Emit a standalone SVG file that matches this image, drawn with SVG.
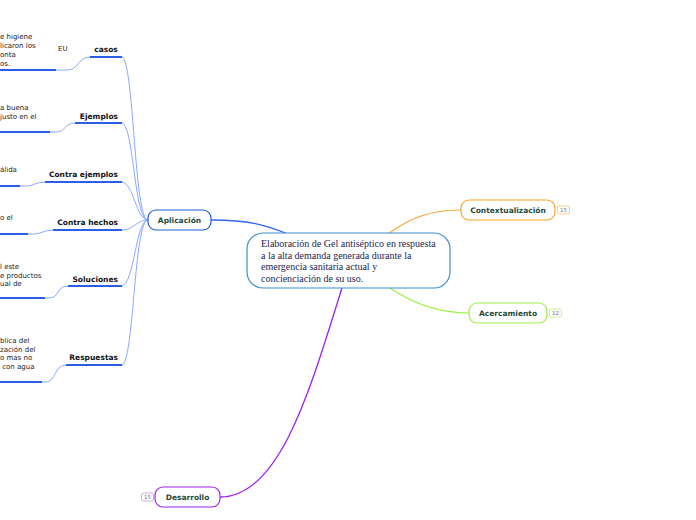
<svg xmlns="http://www.w3.org/2000/svg" width="696" height="520" viewBox="0 0 696 520">
<style>
.lbl{font-family:"DejaVu Sans","Liberation Sans",sans-serif;font-size:7.5px;font-weight:bold;fill:#111}
.leaf{font-family:"DejaVu Sans","Liberation Sans",sans-serif;font-size:7px;fill:#222}
.node{font-family:"DejaVu Sans","Liberation Sans",sans-serif;font-size:7.5px;font-weight:bold;fill:#1d4a3a;text-anchor:middle}
.badge{font-family:"DejaVu Sans","Liberation Sans",sans-serif;font-size:5.5px;text-anchor:middle}
.ul{stroke:#2a5ee8;stroke-width:2;fill:none}
.thin{stroke:#8aa8ff;stroke-width:1;fill:none}
</style>
<rect width="696" height="520" fill="#fff"/>
<g id="connectors">
<path d="M211,220 C250,220 265,225 288,234" stroke="#3366ee" stroke-width="1.3" fill="none"/>
<path d="M388,234 C410,218 430,210 461,210" stroke="#f5a030" stroke-width="1.2" fill="none"/>
<path d="M390,288 C415,305 440,313 469,313" stroke="#9ef040" stroke-width="1.2" fill="none"/>
<path d="M342,288 C310,390 280,497 220,497" stroke="#a020f0" stroke-width="1.3" fill="none"/>
<path class="thin" d="M148,220 C134,220 134,60 122,57"/>
<path class="thin" d="M148,220 C134,220 134,126 122,123"/>
<path class="thin" d="M148,220 C136,220 134,184 122,182"/>
<path class="thin" d="M148,220 C136,220 134,230 122,230"/>
<path class="thin" d="M148,220 C136,220 134,284 122,286"/>
<path class="thin" d="M148,220 C134,220 134,362 122,365"/>
<path class="ul" d="M90,57 H122"/>
<path class="ul" d="M75,123 H122"/>
<path class="ul" d="M45,182 H122"/>
<path class="ul" d="M53,230 H122"/>
<path class="ul" d="M68,286 H122"/>
<path class="ul" d="M66,365 H122"/>
<path class="thin" d="M56,70 L68,70 C78,70 78,57 90,57"/>
<path class="ul" d="M0,70 H56"/>
<path class="thin" d="M50,132 L56,132 C66,132 64,123 75,123"/>
<path class="ul" d="M0,132 H50"/>
<path class="thin" d="M20,186 L26,186 C34,186 36,182 45,182"/>
<path class="ul" d="M0,186 H20"/>
<path class="thin" d="M28,234 L33,234 C42,234 44,230 53,230"/>
<path class="ul" d="M0,234 H28"/>
<path class="thin" d="M45,298 L49,298 C60,298 56,286 68,286"/>
<path class="ul" d="M0,298 H45"/>
<path class="thin" d="M42,382 L46,382 C56,382 54,365 66,365"/>
<path class="ul" d="M0,382 H42"/>
</g>
<g id="central">
<rect x="247" y="233" width="203" height="55" rx="16" fill="#fff" stroke="#3a8ed0" stroke-width="1.2"/>
<text font-family="'Liberation Serif','DejaVu Serif',serif" font-size="10" fill="#1a2650">
<tspan x="261" y="247">Elaboración de Gel antiséptico en respuesta</tspan>
<tspan x="261" y="258.5">a la alta demanda generada durante la</tspan>
<tspan x="261" y="270">emergencia sanitaria actual y</tspan>
<tspan x="261" y="281.5">concienciación de su uso.</tspan>
</text>
</g>
<g id="aplicacion">
<rect x="148" y="210" width="63" height="20" rx="8" fill="#fff" stroke="#1f5fe0" stroke-width="1.2"/>
<text class="node" x="179.5" y="222.5">Aplicación</text>
</g>
<g id="contextualizacion">
<rect x="461" y="200" width="94" height="20" rx="8" fill="#fff" stroke="#f5a623" stroke-width="1.2"/>
<text class="node" x="508" y="212.5">Contextualización</text>
<rect x="557.5" y="206" width="12" height="8" rx="2" fill="#fff" stroke="#f5c070" stroke-width="0.8"/>
<text class="badge" x="563.5" y="212" fill="#777">15</text>
</g>
<g id="acercamiento">
<rect x="469" y="303" width="78" height="20" rx="8" fill="#fff" stroke="#9ef040" stroke-width="1.2"/>
<text class="node" x="508" y="315.5">Acercamiento</text>
<rect x="549.5" y="309" width="12" height="8" rx="2" fill="#fff" stroke="#b8f080" stroke-width="0.8"/>
<text class="badge" x="555.5" y="315" fill="#777">12</text>
</g>
<g id="desarrollo">
<rect x="155" y="487" width="65" height="20" rx="8" fill="#fff" stroke="#a020f0" stroke-width="1.2"/>
<text class="node" x="187.5" y="499.5">Desarrollo</text>
<rect x="141.5" y="493" width="12" height="8" rx="2" fill="#fff" stroke="#c890f0" stroke-width="0.8"/>
<text class="badge" x="147.5" y="499" fill="#777">15</text>
</g>
<g id="casos">
<text class="lbl" x="106" y="52" text-anchor="middle">casos</text>
<text class="leaf" x="58" y="51" font-size="5.5">EU</text>
<text class="leaf"><tspan x="0" y="39">e higiene</tspan><tspan x="0" y="48">licaron los</tspan><tspan x="0" y="57">onta</tspan><tspan x="0" y="66">os.</tspan></text>
</g>
<g id="ejemplos">
<text class="lbl" x="118" y="119" text-anchor="end">Ejemplos</text>
<text class="leaf"><tspan x="0" y="110">a buena</tspan><tspan x="0" y="119">justo en el</tspan></text>
</g>
<g id="contra-ejemplos">
<text class="lbl" x="118" y="177" text-anchor="end">Contra ejemplos</text>
<text class="leaf" x="0" y="172">álida</text>
</g>
<g id="contra-hechos">
<text class="lbl" x="118" y="225" text-anchor="end">Contra hechos</text>
<text class="leaf" x="0" y="220">o el</text>
</g>
<g id="soluciones">
<text class="lbl" x="118" y="282" text-anchor="end">Soluciones</text>
<text class="leaf"><tspan x="0" y="269">l este</tspan><tspan x="0" y="277.5">e productos</tspan><tspan x="0" y="286">ual de</tspan></text>
</g>
<g id="respuestas">
<text class="lbl" x="118" y="360" text-anchor="end">Respuestas</text>
<text class="leaf"><tspan x="0" y="343">blica del</tspan><tspan x="0" y="352">zación del</tspan><tspan x="0" y="360">o mas no</tspan><tspan x="0" y="369">&#160;con agua</tspan></text>
</g>
</svg>
